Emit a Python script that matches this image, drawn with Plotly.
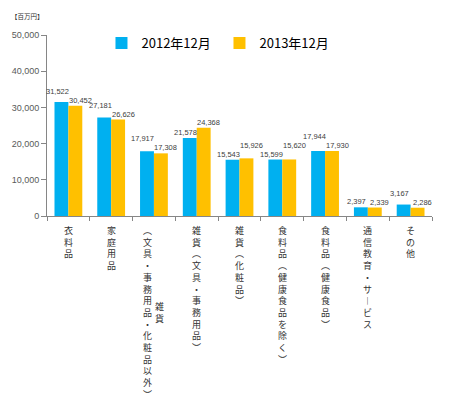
import plotly.graph_objects as go

categories = ["衣料品", "家庭用品", "雑貨（文具・事務用品・化粧品以外）", "雑貨（文具・事務用品）",
              "雑貨（化粧品）", "食料品（健康食品を除く）", "食料品（健康食品）",
              "通信教育・サービス", "その他"]
series_names = ["2012年12月", "2013年12月"]
values_2012 = [31522, 27181, 17917, 21578, 15543, 15599, 17944, 2397, 3167]
values_2013 = [30452, 26626, 17308, 24368, 15926, 15620, 17930, 2339, 2286]
y_ticks = [0, 10000, 20000, 30000, 40000, 50000]

BLUE = "#00B0F0"
GOLD = "#FFC000"
JP = "Noto Sans CJK JP"
NUM = "Liberation Sans, Arial"
bargap = 0.35
half = (1 - bargap) / 2  # width of one bar in category units

W, H = 442, 407  # page body adds an 8px offset, so the figure is 8px smaller
ML, MR, MT, MB = 39, 18, 27, 199
YMAX = 50000

# vertical writing: swap brackets / long vowel for their vertical forms
VERT = {"（": "︵", "）": "︶", "ー": "︱"}


def vertical(s):
    return "<br>".join(VERT.get(c, c) for c in s)


fig = go.Figure()
for name, vals, col in [(series_names[0], values_2012, BLUE), (series_names[1], values_2013, GOLD)]:
    fig.add_trace(go.Bar(x=categories, y=vals, name=name, marker=dict(color=col, line=dict(width=0))))

# data labels: nudged outward, and the taller one lifted when two collide (Excel style)
lab_fs = 7.5
lab_h = 9
cw = (W - ML - MR) / len(categories)
ypx = (H - MT - MB) / YMAX
labels = []
for i in range(len(categories)):
    for v, side, dx in [(values_2012[i], -1, -4), (values_2013[i], 1, 5)]:
        txt = f"{v:,}"
        wid = sum(2.1 if ch == "," else 4.2 for ch in txt)
        cx = (i + 0.5 + side * half / 2) * cw + dx
        labels.append(dict(x=i + side * half / 2, v=v, txt=txt, dx=dx, cx=cx, w=wid, bottom=v * ypx, lift=0))
for a, b in zip(labels, labels[1:]):
    if abs(a["cx"] - b["cx"]) < (a["w"] + b["w"]) / 2 + 2 and abs(a["bottom"] - b["bottom"]) < lab_h:
        hi, lo = (a, b) if a["v"] > b["v"] else (b, a)
        new_bottom = lo["bottom"] + lab_h
        hi["lift"] += new_bottom - hi["bottom"]
        hi["bottom"] = new_bottom
for lb in labels:
    fig.add_annotation(x=lb["x"], y=lb["v"], text=lb["txt"], showarrow=False, yanchor="bottom",
                       xshift=lb["dx"], yshift=lb["lift"], borderpad=0,
                       font=dict(size=lab_fs, color="#404040", family=NUM))

# category labels written top-to-bottom
lab_size = 9
line_h = lab_size * 1.3
for i, c in enumerate(categories):
    if len(c) > 15:
        head, rest = c.split("（", 1)
        rest = "（" + rest
        fig.add_annotation(x=i, y=0, text=vertical(rest), showarrow=False, yanchor="top", xshift=-6, yshift=-6,
                           font=dict(size=lab_size, color="#333333", family=JP))
        fig.add_annotation(x=i, y=0, text=vertical(head), showarrow=False, yanchor="top", xshift=6,
                           yshift=-6 - (len(rest) - len(head)) / 2 * line_h,
                           font=dict(size=lab_size, color="#333333", family=JP))
    else:
        fig.add_annotation(x=i, y=0, text=vertical(c), showarrow=False, yanchor="top", yshift=-6,
                           font=dict(size=lab_size, color="#333333", family=JP))

fig.add_annotation(x=0, y=1, xref="paper", yref="paper", xanchor="left", yanchor="middle",
                   text="【百万円】", showarrow=False, xshift=-38, yshift=19,
                   font=dict(size=6.5, color="#333333", family=JP))

fig.update_layout(
    template="none",
    width=W, height=H,
    margin=dict(l=ML, r=MR, t=MT, b=MB, autoexpand=False),
    paper_bgcolor="white", plot_bgcolor="white",
    barmode="group", bargap=bargap, bargroupgap=0,
    showlegend=True,
    legend=dict(orientation="h", x=0.448, xanchor="center", y=0.956, yanchor="middle",
                font=dict(size=13, family=JP, color="#000000"), bgcolor="rgba(0,0,0,0)",
                itemwidth=30, entrywidth=73),
    xaxis=dict(range=[-0.5, len(categories) - 0.5], showticklabels=False, ticks="outside",
               tickson="boundaries", ticklen=4, automargin=False,
               tickcolor="#868686", showline=True, linecolor="#868686", showgrid=False, zeroline=False),
    yaxis=dict(range=[0, YMAX], tickvals=y_ticks, tickformat=",", ticks="outside", ticklen=5,
               automargin=False,
               tickcolor="#868686", showline=True, linecolor="#868686", showgrid=False,
               zeroline=False, tickfont=dict(size=9, color="#595959", family=NUM)),
)

fig.write_html("out.html")
